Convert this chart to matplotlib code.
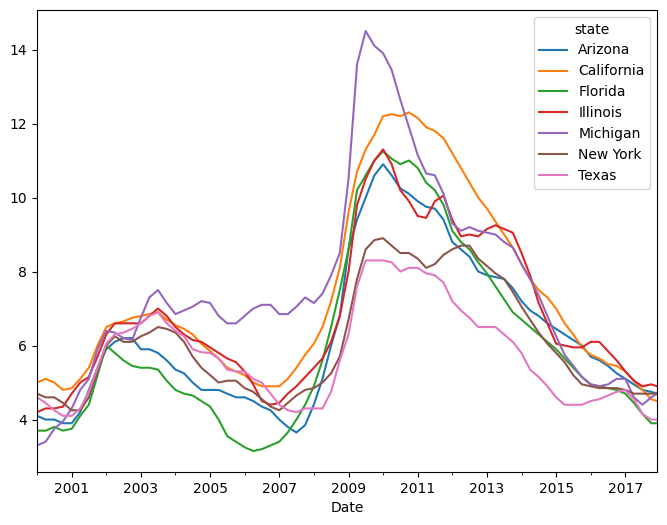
import matplotlib
matplotlib.use("Agg")
import matplotlib.pyplot as plt
import matplotlib.dates as mdates
import pandas as pd

# quarterly readings, Jan 2000 .. Oct 2017, plus Dec 2017
dates = list(pd.date_range("2000-01-01", "2017-10-01", freq="QS")) + [pd.Timestamp("2017-12-01")]

states = ["Arizona", "California", "Florida", "Illinois", "Michigan", "New York", "Texas"]

arizona = [4.1, 4.0, 4.0, 3.9, 3.9, 4.2, 4.8, 5.4, 5.9, 6.1, 6.2, 6.2,
           5.9, 5.9, 5.8, 5.6, 5.35, 5.25, 5.0, 4.8, 4.8, 4.8, 4.7, 4.6,
           4.6, 4.5, 4.35, 4.25, 4.0, 3.8, 3.65, 3.85, 4.4, 5.1, 6.0, 6.8,
           8.6, 9.4, 10.0, 10.6, 10.9, 10.6, 10.25, 10.1, 9.9, 9.75, 9.7, 9.4,
           8.8, 8.6, 8.4, 8.0, 7.9, 7.85, 7.8, 7.55, 7.2, 6.95, 6.8, 6.6,
           6.45, 6.3, 6.15, 6.0, 5.7, 5.6, 5.45, 5.25, 5.1, 4.95, 4.8, 4.75, 4.7]
california = [5.0, 5.1, 5.0, 4.8, 4.85, 5.1, 5.4, 6.0, 6.5, 6.6, 6.65, 6.75,
              6.8, 6.85, 6.9, 6.7, 6.55, 6.45, 6.3, 6.05, 5.85, 5.65, 5.4, 5.3,
              5.2, 5.0, 4.9, 4.9, 4.9, 5.1, 5.4, 5.75, 6.05, 6.5, 7.2, 8.1,
              9.6, 10.7, 11.3, 11.7, 12.2, 12.25, 12.2, 12.3, 12.15, 11.9, 11.8, 11.6,
              11.2, 10.8, 10.4, 10.0, 9.7, 9.35, 9.0, 8.65, 8.2, 7.8, 7.5, 7.3,
              7.0, 6.6, 6.3, 5.95, 5.75, 5.65, 5.5, 5.45, 5.3, 5.05, 4.8, 4.55, 4.5]
florida = [3.7, 3.7, 3.8, 3.7, 3.75, 4.1, 4.4, 5.2, 6.0, 5.8, 5.6, 5.45,
           5.4, 5.4, 5.35, 5.05, 4.8, 4.7, 4.65, 4.5, 4.35, 4.0, 3.55, 3.4,
           3.25, 3.15, 3.2, 3.3, 3.4, 3.65, 4.0, 4.4, 4.9, 5.6, 6.5, 7.5,
           8.6, 10.2, 10.6, 11.0, 11.25, 11.05, 10.9, 11.0, 10.8, 10.4, 10.2, 9.8,
           9.1, 8.8, 8.6, 8.25, 7.95, 7.6, 7.25, 6.9, 6.7, 6.5, 6.3, 6.1,
           5.9, 5.65, 5.4, 5.15, 4.95, 4.9, 4.85, 4.8, 4.7, 4.45, 4.15, 3.9, 3.9]
illinois = [4.2, 4.3, 4.3, 4.35, 4.7, 5.0, 5.15, 5.7, 6.3, 6.6, 6.6, 6.6,
            6.6, 6.8, 7.0, 6.8, 6.5, 6.3, 6.15, 6.1, 5.95, 5.8, 5.65, 5.55,
            5.3, 4.95, 4.5, 4.4, 4.45, 4.7, 4.9, 5.15, 5.4, 5.65, 6.1, 6.8,
            8.0, 9.8, 10.5, 11.0, 11.3, 10.9, 10.2, 9.9, 9.5, 9.45, 9.9, 10.05,
            9.4, 8.95, 9.0, 8.95, 9.15, 9.25, 9.15, 9.05, 8.5, 7.9, 7.15, 6.6,
            6.05, 6.0, 5.95, 5.95, 6.1, 6.1, 5.85, 5.6, 5.3, 5.05, 4.9, 4.95, 4.9]
michigan = [3.3, 3.4, 3.75, 3.95, 4.3, 4.8, 5.1, 5.9, 6.4, 6.35, 6.2, 6.15,
            6.75, 7.3, 7.5, 7.15, 6.85, 6.95, 7.05, 7.2, 7.15, 6.8, 6.6, 6.6,
            6.8, 7.0, 7.1, 7.1, 6.85, 6.85, 7.05, 7.3, 7.15, 7.4, 7.9, 8.5,
            10.5, 13.6, 14.5, 14.1, 13.9, 13.45, 12.65, 11.9, 11.15, 10.65, 10.6, 10.1,
            9.3, 9.1, 9.2, 9.1, 9.05, 9.0, 8.8, 8.65, 8.2, 7.8, 7.35, 6.8,
            6.25, 5.75, 5.45, 5.15, 4.95, 4.9, 4.95, 5.1, 5.1, 4.6, 4.4, 4.6, 4.7]
new_york = [4.7, 4.6, 4.6, 4.45, 4.25, 4.25, 4.6, 5.3, 6.0, 6.25, 6.1, 6.1,
            6.25, 6.35, 6.5, 6.45, 6.35, 6.1, 5.7, 5.4, 5.2, 5.0, 5.05, 5.05,
            4.85, 4.75, 4.55, 4.35, 4.25, 4.45, 4.65, 4.8, 4.85, 5.0, 5.25, 5.7,
            6.7, 7.8, 8.6, 8.85, 8.9, 8.7, 8.5, 8.5, 8.35, 8.1, 8.2, 8.45,
            8.6, 8.7, 8.7, 8.35, 8.15, 7.95, 7.8, 7.45, 7.05, 6.7, 6.35, 6.05,
            5.8, 5.55, 5.2, 4.95, 4.9, 4.85, 4.85, 4.85, 4.8, 4.7, 4.7, 4.7, 4.7]
texas = [4.6, 4.45, 4.25, 4.1, 4.1, 4.3, 4.75, 5.4, 6.05, 6.3, 6.35, 6.45,
         6.6, 6.8, 6.9, 6.6, 6.4, 6.25, 5.9, 5.82, 5.8, 5.65, 5.35, 5.3,
         5.3, 5.1, 5.0, 4.7, 4.4, 4.25, 4.2, 4.3, 4.3, 4.3, 4.75, 5.6,
         6.3, 7.6, 8.3, 8.3, 8.3, 8.25, 8.0, 8.1, 8.1, 7.95, 7.9, 7.7,
         7.2, 6.95, 6.75, 6.5, 6.5, 6.5, 6.3, 6.1, 5.8, 5.35, 5.15, 4.9,
         4.6, 4.4, 4.4, 4.4, 4.5, 4.55, 4.65, 4.75, 4.8, 4.55, 4.15, 4.0, 4.0]

series = [arizona, california, florida, illinois, michigan, new_york, texas]

fig = plt.figure(figsize=(6.67, 5.25), dpi=100)
ax = fig.add_axes([37 / 667, 53 / 525, 620 / 667, 462 / 525])

for name, vals in zip(states, series):
    ax.plot(dates, vals, label=name, linewidth=1.5)

ax.set_xlim(dates[0], dates[-1])
ax.xaxis.set_major_locator(mdates.YearLocator(2, month=1, day=1))
ax.xaxis.set_minor_locator(mdates.YearLocator(1, month=1, day=1))
ax.xaxis.set_major_formatter(mdates.DateFormatter("%Y"))
# major ticks on odd years only
ax.xaxis.set_major_locator(mdates.YearLocator(2, month=1, day=1))
ax.set_xticks([pd.Timestamp(f"{y}-01-01") for y in range(2001, 2018, 2)])
ax.set_xlabel("Date")
ax.set_yticks([4, 6, 8, 10, 12, 14])

ax.legend(title="state", loc="upper right")

fig.savefig("out.png", dpi=100)
